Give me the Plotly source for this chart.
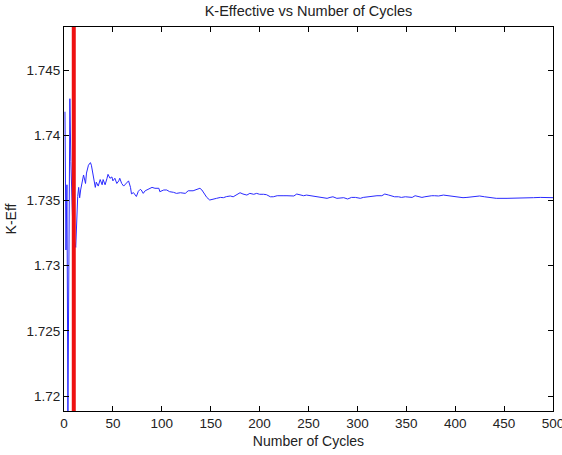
import plotly.graph_objects as go

title = "K-Effective vs Number of Cycles"
x_label = "Number of Cycles"
y_label = "K-Eff"
inactive_cycles = 10

cycles = [1, 2, 3, 4, 5, 6, 7, 8, 9, 10, 11, 12, 13, 14, 15, 16, 17, 18, 19, 20,
          22, 23, 25, 27, 28, 30, 32, 33, 35, 37, 39, 40, 42, 44, 45, 47, 49, 50, 52, 54,
          56, 57, 59, 61, 64, 66, 68, 69, 71, 73, 74, 76, 78, 79, 81, 83, 86, 90, 93, 97,
          98, 102, 105, 108, 112, 115, 119, 124, 127, 132, 136, 139, 141, 143, 146, 149, 153, 156, 160, 163,
          166, 170, 173, 177, 180, 183, 187, 190, 194, 197, 200, 204, 207, 211, 214, 218, 221, 224, 228, 231,
          235, 238, 241, 245, 248, 252, 255, 258, 262, 265, 269, 272, 275, 279, 283, 286, 290, 292, 294, 298,
          303, 306, 309, 313, 317, 320, 325, 327, 328, 332, 335, 338, 342, 345, 349, 352, 356, 359, 362, 366,
          369, 373, 376, 379, 383, 388, 395, 402, 408, 412, 419, 425, 430, 437, 442, 453, 463, 473, 478, 480,
          487, 494, 500]

k_eff = [1.7418, 1.7312, 1.7362, 1.7186, 1.7300, 1.7428, 1.7380, 1.7350, 1.7330, 1.7320,
         1.7318, 1.7314, 1.7335, 1.7353, 1.7360, 1.7352, 1.7358, 1.7363, 1.7368, 1.73695,
         1.7363, 1.7371, 1.7377, 1.7379, 1.7377, 1.7368, 1.7360, 1.7364, 1.7361, 1.7366,
         1.7362, 1.7366, 1.7362, 1.7367, 1.7370, 1.7367, 1.7368, 1.7365, 1.7367, 1.7363,
         1.7365, 1.7367, 1.7363, 1.7361, 1.7363, 1.7365, 1.7360, 1.7355, 1.7356, 1.7354,
         1.7353, 1.7357, 1.73585, 1.7358, 1.73554, 1.73574, 1.73585, 1.7360, 1.73593, 1.73593,
         1.73567, 1.7358, 1.7358, 1.73567, 1.73562, 1.73554, 1.73559, 1.73554, 1.73574, 1.73574,
         1.73585, 1.73593, 1.7358, 1.73554, 1.73523, 1.73503, 1.73508, 1.73516, 1.73523, 1.73521,
         1.73529, 1.73534, 1.73528, 1.73547, 1.73559, 1.73549, 1.73541, 1.73554, 1.73547, 1.73554,
         1.73547, 1.73547, 1.73544, 1.73528, 1.73528, 1.73536, 1.73534, 1.73536, 1.73536, 1.73534,
         1.73534, 1.73549, 1.73541, 1.73536, 1.73541, 1.73536, 1.73534, 1.73528, 1.73521, 1.73516,
         1.73516, 1.73523, 1.73528, 1.73516, 1.73516, 1.73521, 1.73511, 1.73516, 1.73523, 1.73523,
         1.73516, 1.73523, 1.73526, 1.73528, 1.73533, 1.73536, 1.73536, 1.73541, 1.73549, 1.73541,
         1.73536, 1.73528, 1.73528, 1.73523, 1.73528, 1.73528, 1.73523, 1.73536, 1.73528, 1.73523,
         1.73528, 1.73534, 1.73536, 1.73536, 1.73534, 1.73541, 1.73534, 1.73528, 1.73521, 1.73523,
         1.73528, 1.73534, 1.73528, 1.73521, 1.73516, 1.73516, 1.73516, 1.73516, 1.73516, 1.73521,
         1.73523, 1.73521, 1.73521]

x_ticks = [0, 50, 100, 150, 200, 250, 300, 350, 400, 450, 500]
y_ticks = [1.72, 1.725, 1.73, 1.735, 1.74, 1.745]
y_tick_labels = ["1.72", "1.725", "1.73", "1.735", "1.74", "1.745"]

fig = go.Figure()
fig.add_trace(go.Scatter(x=cycles, y=k_eff, mode="lines",
                         line=dict(color="#2a2aff", width=1), showlegend=False))

fig.add_shape(type="line", xref="x", yref="paper", x0=inactive_cycles, x1=inactive_cycles,
              y0=0, y1=1, line=dict(color="#ee1111", width=4))

axis_common = dict(showline=True, linecolor="black", linewidth=1, mirror="ticks",
                   ticks="inside", ticklen=5, tickcolor="black", showgrid=False,
                   zeroline=False, automargin=False, tickfont=dict(size=13.5, color="#222"))

fig.update_xaxes(range=[0, 500], tickvals=x_ticks, ticklabeloverflow="allow",
                 title=dict(text=x_label, font=dict(size=14, color="#222"), standoff=5),
                 **axis_common)
fig.update_yaxes(range=[1.71885, 1.7483], tickvals=y_ticks, ticktext=y_tick_labels,
                 title=dict(text=y_label, font=dict(size=14, color="#222"), standoff=6), **axis_common)

fig.update_layout(
    width=562, height=455,
    margin=dict(l=64, r=9, t=27, b=44),
    paper_bgcolor="white", plot_bgcolor="white",
    font=dict(family="Liberation Sans, Arial, sans-serif", color="#222"),
    title=dict(text=title, x=0.5, xref="paper", y=1 - 11 / 455, yref="container",
               yanchor="middle", xanchor="center", font=dict(size=14.5, color="#222")),
)

fig.write_html("out.html")
